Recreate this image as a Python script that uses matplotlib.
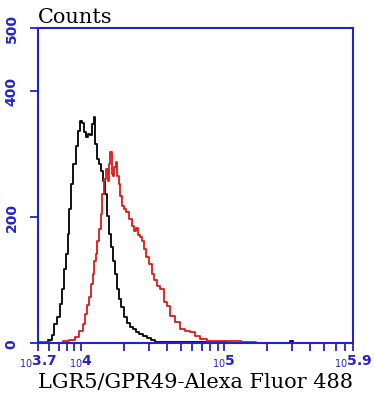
import numpy as np
import matplotlib.pyplot as plt
from matplotlib.ticker import FixedLocator

# log10 fluorescence intensity and counts
ctrl_log = [3.70, 3.749, 3.784, 3.805, 3.819, 3.840, 3.861, 3.875, 3.889, 3.903, 3.910,
            3.924, 3.938, 3.952, 3.973, 3.987, 4.001, 4.015, 4.029, 4.043, 4.057,
            4.071, 4.085, 4.092, 4.106, 4.120, 4.134, 4.148, 4.163, 4.177, 4.191,
            4.205, 4.219, 4.233, 4.247, 4.261, 4.275, 4.289, 4.310, 4.331, 4.352,
            4.373, 4.394, 4.422, 4.450, 4.478, 4.506, 4.534, 4.590, 4.70, 4.90,
            5.10, 5.45, 5.47, 5.49, 5.60]
ctrl_counts = [0, 0, 5, 13, 30, 41, 62, 86, 117, 141, 173,
               213, 252, 284, 313, 336, 352, 349, 335, 327, 332,
               330, 348, 359, 316, 292, 284, 273, 257, 236, 202,
               173, 152, 130, 110, 86, 70, 57, 41, 32, 25,
               22, 17, 14, 11, 8, 5, 2, 2, 2, 1,
               0, 0, 3, 0, 0]

lgr5_log = [3.70, 3.854, 3.896, 3.938, 3.973, 4.001, 4.022, 4.036, 4.050, 4.064, 4.078,
            4.085, 4.099, 4.106, 4.120, 4.134, 4.141, 4.156, 4.170, 4.184, 4.191,
            4.198, 4.212, 4.219, 4.226, 4.240, 4.247, 4.261, 4.268, 4.282, 4.296,
            4.310, 4.324, 4.345, 4.366, 4.380, 4.394, 4.408, 4.422, 4.436, 4.450,
            4.464, 4.485, 4.506, 4.520, 4.541, 4.569, 4.590, 4.611, 4.639, 4.674,
            4.709, 4.744, 4.779, 4.814, 4.849, 4.905, 5.045, 5.186, 5.256]
lgr5_counts = [2, 0, 3, 5, 10, 19, 30, 46, 60, 73, 94,
               110, 130, 141, 162, 181, 205, 236, 260, 276, 257,
               284, 303, 268, 265, 279, 287, 265, 252, 233, 217,
               213, 208, 197, 186, 178, 183, 171, 168, 162, 149,
               136, 125, 110, 100, 90, 86, 65, 59, 43, 33,
               22, 19, 17, 11, 6, 3, 3, 2, 0]

xticks_log = [3.7, 4, 5, 5.9]
xtick_labels = [r'$_{10}$3.7', r'$_{10}$4', r'$_{10}$5', r'$_{10}$5.9']
yticks = [0, 200, 400, 500]

blue = '#2323c8'

fig = plt.figure(figsize=(3.75, 4.02), dpi=100)
ax = fig.add_axes([0.1013, 0.1443, 0.8400, 0.7836])

ax.plot(10 ** np.array(ctrl_log), ctrl_counts, drawstyle='steps-mid', color='black', lw=1.3)
ax.plot(10 ** np.array(lgr5_log), lgr5_counts, drawstyle='steps-mid', color='#e01818', lw=1.3)

ax.set_xscale('log')
ax.set_xlim(10 ** 3.7, 10 ** 5.9)
ax.set_ylim(0, 500)

ax.xaxis.set_major_locator(FixedLocator([10 ** v for v in xticks_log]))
ax.set_xticklabels(xtick_labels)
minor = [m * 10 ** e for e in (3, 4, 5) for m in range(2, 10)
         if 10 ** 3.7 < m * 10 ** e < 10 ** 5.9]
ax.xaxis.set_minor_locator(FixedLocator(minor))
ax.xaxis.set_minor_formatter(plt.NullFormatter())

ax.set_yticks(yticks)
ax.set_yticklabels([str(v) for v in yticks], rotation=90, va='center')

for s in ax.spines.values():
    s.set_color(blue)
    s.set_linewidth(1.5)
ax.tick_params(axis='both', which='both', direction='out', color=blue, width=1.3,
               length=6, labelcolor=blue)
ax.tick_params(axis='y', pad=8)
ax.tick_params(axis='x', pad=1)
for lab in ax.get_yticklabels():
    lab.set_fontsize(10)
    lab.set_fontweight('bold')
for lab in ax.get_xticklabels():
    lab.set_fontsize(10)
    lab.set_fontweight('bold')

ax.set_xlabel('LGR5/GPR49-Alexa Fluor 488', family='DejaVu Serif', fontsize=15,
              color='black', labelpad=2)
fig.text(0.1013, 0.943, 'Counts', family='DejaVu Serif', fontsize=15, color='black')

fig.savefig('out.png', dpi=100)
